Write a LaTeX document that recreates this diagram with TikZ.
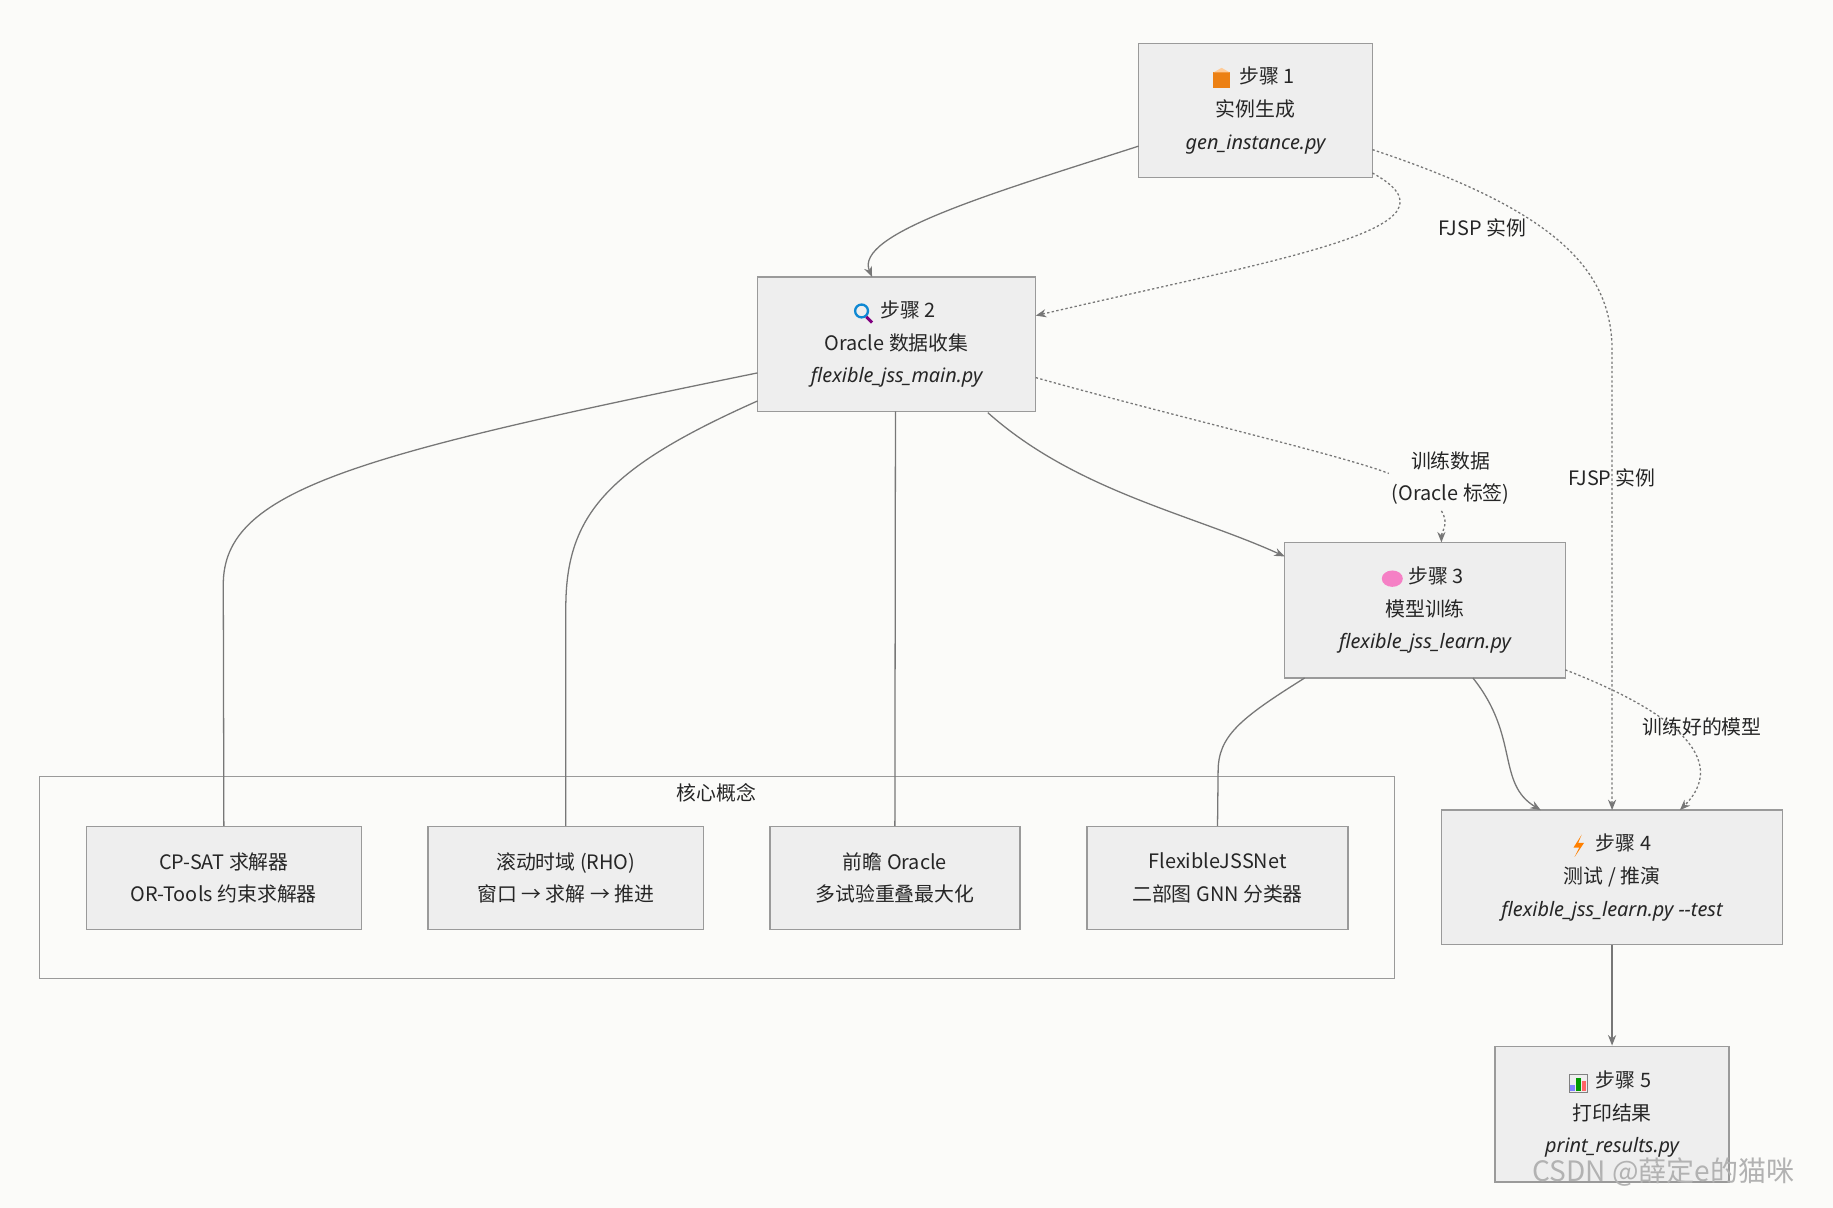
\documentclass[tikz,border=0pt]{standalone}
\usepackage{fontspec}
\setmainfont{Noto Sans CJK SC}
\newfontfamily\itf{Noto Sans}[ItalicFont={* Italic}]
\usetikzlibrary{arrows.meta}
\definecolor{bg}{HTML}{FBFBF9}
\definecolor{bx}{HTML}{EEEEEE}
\definecolor{bd}{HTML}{9A9A9A}
\definecolor{ed}{HTML}{777777}
\newcommand{\fn}[1]{{\itf\itshape #1}}
\begin{document}
\begin{tikzpicture}[x=1pt,y=-1pt,
  every node/.style={font=\fontsize{17}{28}\selectfont, text=black!85},
  box/.style={draw=bd, fill=bx, line width=1.2pt, align=center, inner sep=0pt},
  e/.style={draw=ed, line width=1.1pt},
  a/.style={e, -{Stealth[length=9pt,width=7pt]}},
  d/.style={a, dash pattern=on 2pt off 2pt},
  lbl/.style={fill=bg, inner sep=3pt, align=center}]
\fill[bg] (0,0) rectangle (1568,1033);
\useasboundingbox (0,0) rectangle (1568,1033);
% cluster
\node[draw=bd, line width=1.2pt, minimum width=1159pt, minimum height=173pt, inner sep=0pt] (cl) at (613.5,750.5) {};
\node (cll) at (613,678) {核心概念};
% main boxes
\node[box, minimum width=200pt, minimum height=115pt] (s1) at (1074,94.5) {\phantom{XX}步骤 1\\实例生成\\\fn{gen\_instance.py}};
\node[box, minimum width=238pt, minimum height=115pt] (s2) at (767,294.5) {\phantom{XX}步骤 2\\Oracle 数据收集\\\fn{flexible\_jss\_main.py}};
\node[box, minimum width=240pt, minimum height=116pt] (s3) at (1219,522) {\phantom{XX}步骤 3\\模型训练\\\fn{flexible\_jss\_learn.py}};
\node[box, minimum width=292pt, minimum height=115pt] (s4) at (1379,750.5) {\phantom{XX}步骤 4\\测试 / 推演\\\fn{flexible\_jss\_learn.py -{}-test}};
\node[box, minimum width=200pt, minimum height=116pt] (s5) at (1379,953) {\phantom{XX}步骤 5\\打印结果\\\fn{print\_results.py}};
% icons
\fill[orange!70!brown] (1038,62) rectangle (1052,75); \fill[orange!40] (1038,62) -- (1045,58) -- (1052,62) -- cycle;
\draw[cyan!70!blue, line width=2pt] (737,266) circle (5.5pt); \draw[violet, line width=2.5pt] (741,271) -- (746,276);
\fill[magenta!50] (1191,495) ellipse (9pt and 7pt);
\fill[orange] (1353,714) -- (1346,725) -- (1351,725) -- (1347,733) -- (1355,721) -- (1350,721) -- cycle;
\fill[blue!50] (1343,928) rectangle (1347,933); \fill[green!60!black] (1348,922) rectangle (1352,933); \fill[red!60] (1353,925) rectangle (1357,933); \draw[gray] (1342,919) rectangle (1358,934);
% concepts
\node[box, minimum width=235pt, minimum height=88pt] (c1) at (191.5,751) {CP-SAT 求解器\\OR-Tools 约束求解器};
\node[box, minimum width=236pt, minimum height=88pt] (c2) at (484,751) {滚动时域 (RHO)\\窗口 → 求解 → 推进};
\node[box, minimum width=214pt, minimum height=88pt] (c3) at (765.5,751) {前瞻 Oracle\\多试验重叠最大化};
\node[box, minimum width=223pt, minimum height=88pt] (c4) at (1041.5,751) {FlexibleJSSNet\\二部图 GNN 分类器};
% coordinates
\coordinate (s1a) at (974,125);
\coordinate (s1b) at (1174,148);
\coordinate (s1c) at (1174,128);
\coordinate (s2in) at (746,237);
\coordinate (s2r) at (886,270);
\coordinate (s2o) at (886,323);
\coordinate (s2s) at (845,353);
\coordinate (s3in) at (1099,476);
\coordinate (s3t) at (1233,464);
\coordinate (s3o) at (1260,580);
\coordinate (s3r) at (1339,573);
\coordinate (s3b) at (1116,580);
\coordinate (s4a) at (1318,693);
\coordinate (s4b) at (1379,693);
\coordinate (s4c) at (1437,693);
\coordinate (p1) at (648,319);
\coordinate (p2) at (648,343);
\coordinate (p3) at (766,352);
% labels
\node[lbl] (l1) at (1268,195) {FJSP 实例};
\node[lbl] (l2) at (1379,409) {FJSP 实例};
\node[lbl] (l3) at (1241,409) {训练数据\\(Oracle 标签)};
\node[lbl] (l4) at (1456,622) {训练好的模型};
% edges
\draw[a] (s1a) .. controls (850,165) and (730,200) .. (s2in);
\draw[d] (s1b) .. controls (1260,195) and (1100,220) .. (s2r);
\draw[d] (s1c) .. controls (1330,180) and (1379,230) .. (1379,300) -- (s4b);
\draw[a] (s2s) .. controls (920,420) and (1020,440) .. (s3in);
\draw[d, -] (s2o) .. controls (1000,355) and (1150,390) .. (1188,405);
\draw[d] (1233,437) .. controls (1240,448) and (1233,455) .. (s3t);
\draw[e] (p1) .. controls (300,390) and (191,420) .. (191,500) -- (c1.north);
\draw[e] (p2) .. controls (520,400) and (484,440) .. (484,520) -- (c2.north);
\draw[e] (p3) -- (c3.north);
\draw[e] (s3b) .. controls (1060,615) and (1042,630) .. (1042,660) -- (c4.north);
\draw[a] (s3o) .. controls (1300,630) and (1280,670) .. (s4a);
\draw[d] (s3r) .. controls (1460,620) and (1470,660) .. (s4c);
\draw[a] (s4.south) -- (s5.north);
\node[text=gray!60, font=\fontsize{24}{28}\selectfont] (wm) at (1423,1003) {CSDN @薛定e的猫咪};
\end{tikzpicture}
\end{document}
